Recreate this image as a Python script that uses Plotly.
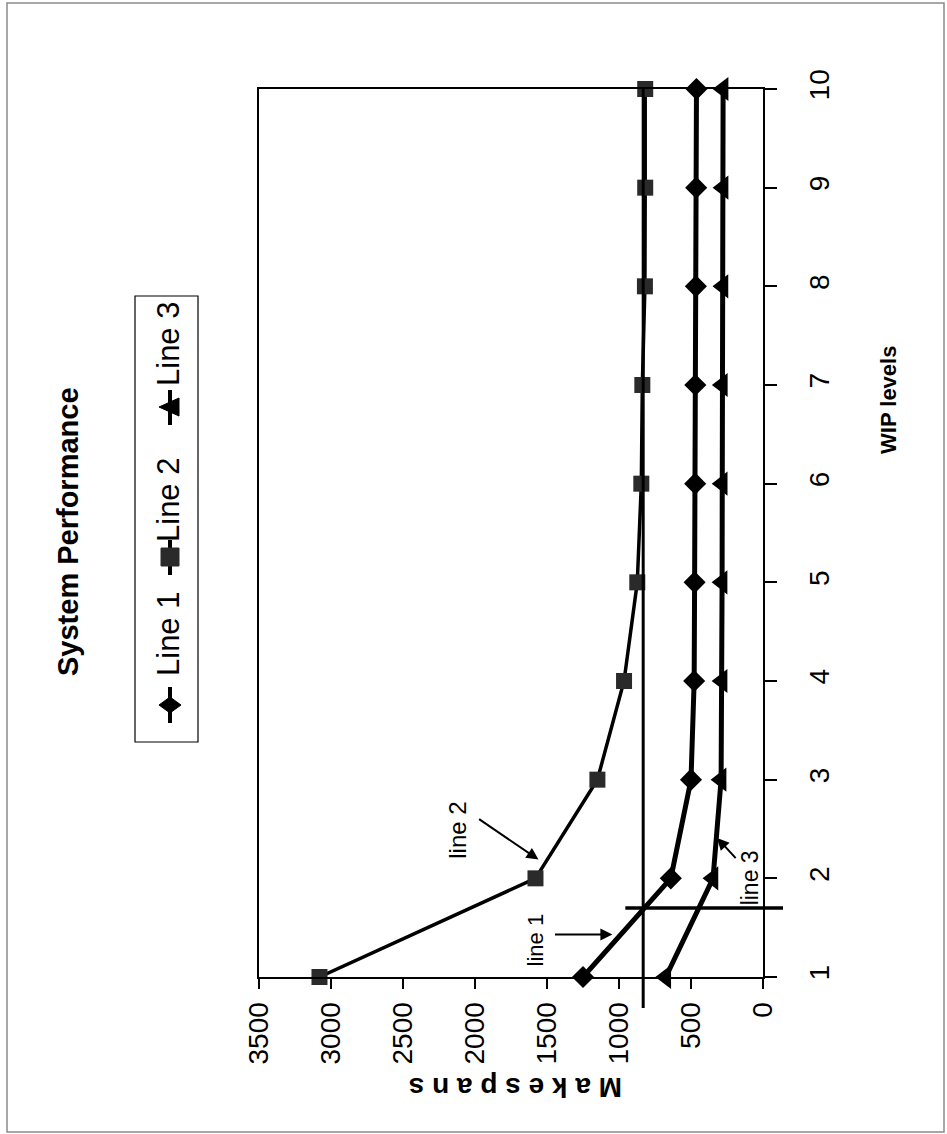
import plotly.graph_objects as go

# ---------------- data ----------------
wip_levels = [1, 2, 3, 4, 5, 6, 7, 8, 9, 10]
line1_makespan = [1250, 640, 500, 478, 475, 471, 470, 466, 464, 462]
line2_makespan = [3080, 1580, 1150, 965, 873, 845, 838, 820, 818, 818]
line3_makespan = [675, 347, 291, 284, 284, 283, 282, 278, 277, 277]
series_names = ["Line 1", "Line 2", "Line 3"]
makespan_ticks = [0, 500, 1000, 1500, 2000, 2500, 3000, 3500]

ref_makespan = 832          # vertical reference line (makespan value)
ref_wip = 1.70              # horizontal reference line (WIP value)
ref_wip_span = (956, -139)  # makespan extent of the horizontal reference line

# ---------------- layout geometry ----------------
W, H = 947, 1134
L, R, T, B = 259, 184, 89, 157
PW, PH = W - L - R, H - T - B
XMAX = 3500

def px(x):
    return (x - L) / PW

def py(y):
    return (H - B - y) / PH

def mk(m):
    return (XMAX - m) / XMAX

FONT = "Liberation Sans, Arial, sans-serif"

fig = go.Figure()
fig.add_trace(go.Scatter(x=line1_makespan, y=wip_levels, name=series_names[0], mode="lines+markers",
                         line=dict(color="#000", width=5),
                         marker=dict(symbol="diamond", size=17, color="#000"), cliponaxis=False))
fig.add_trace(go.Scatter(x=line2_makespan, y=wip_levels, name=series_names[1], mode="lines+markers",
                         line=dict(color="#000", width=3.5),
                         marker=dict(symbol="square", size=16, color="#2a2a2a"), cliponaxis=False))
fig.add_trace(go.Scatter(x=line3_makespan, y=wip_levels, name=series_names[2], mode="lines+markers",
                         line=dict(color="#000", width=5),
                         marker=dict(symbol="triangle-left", size=21, color="#000"), cliponaxis=False))

shapes = []
# page frame
shapes.append(dict(type="rect", xref="paper", yref="paper", x0=px(7), x1=px(944), y0=py(1132), y1=py(3),
                   line=dict(color="#8a8a8a", width=1.5)))
# reference lines
shapes.append(dict(type="line", xref="x", yref="paper", x0=ref_makespan, x1=ref_makespan,
                   y0=py(1008), y1=1, line=dict(color="#000", width=3)))
shapes.append(dict(type="line", xref="paper", yref="y", x0=mk(ref_wip_span[0]), x1=mk(ref_wip_span[1]),
                   y0=ref_wip, y1=ref_wip, line=dict(color="#000", width=3.5)))

# legend box
shapes.append(dict(type="rect", xref="paper", yref="paper", x0=px(135), x1=px(198), y0=py(742), y1=py(296),
                   line=dict(color="#000", width=1.2), fillcolor="white"))
LX = 170
leg_items = [  # (segment y0, y1, symbol center y, text center y)
    (687, 723, 705, 634),
    (540, 575, 557, 500),
    (390, 425, 407, 344),
]
for i, (s0, s1, sc, tc) in enumerate(leg_items):
    shapes.append(dict(type="line", xref="paper", yref="paper", x0=px(LX), x1=px(LX), y0=py(s0), y1=py(s1),
                       line=dict(color="#000", width=4)))
    if i == 0:
        path = (f"M {px(LX-11)} {py(sc)} L {px(LX)} {py(sc-8)} L {px(LX+11)} {py(sc)} "
                f"L {px(LX)} {py(sc+8)} Z")
        shapes.append(dict(type="path", xref="paper", yref="paper", path=path,
                           fillcolor="#000", line=dict(color="#000", width=1)))
    elif i == 1:
        shapes.append(dict(type="rect", xref="paper", yref="paper", x0=px(LX-9), x1=px(LX+9),
                           y0=py(sc+9), y1=py(sc-9), fillcolor="#2a2a2a", line=dict(color="#2a2a2a", width=1)))
    else:
        path = (f"M {px(LX-11)} {py(sc)} L {px(LX+9)} {py(sc-9)} L {px(LX+9)} {py(sc+9)} Z")
        shapes.append(dict(type="path", xref="paper", yref="paper", path=path,
                           fillcolor="#000", line=dict(color="#000", width=1)))

annotations = []
for i, (s0, s1, sc, tc) in enumerate(leg_items):
    annotations.append(dict(xref="paper", yref="paper", x=px(168), y=py(tc), text=series_names[i],
                            showarrow=False, textangle=-90, xanchor="center", yanchor="middle",
                            font=dict(family=FONT, size=31, color="#000")))

# titles
annotations.append(dict(xref="paper", yref="paper", x=px(68), y=py(532), text="<b>System Performance</b>",
                        showarrow=False, textangle=-90, xanchor="center", yanchor="middle",
                        font=dict(family=FONT, size=29, color="#000")))
annotations.append(dict(xref="paper", yref="paper", x=px(888), y=py(400), text="<b>WIP levels</b>",
                        showarrow=False, textangle=-90, xanchor="center", yanchor="middle",
                        font=dict(family=FONT, size=22, color="#000")))
annotations.append(dict(xref="paper", yref="paper", x=px(516), y=py(1088), text="<b>M a k e s p a n s</b>",
                        showarrow=False, textangle=180, xanchor="center", yanchor="middle",
                        font=dict(family=FONT, size=28, color="#000")))

# callouts
arrow_kw = dict(showarrow=True, arrowhead=2, arrowsize=1.2, arrowwidth=2, arrowcolor="#000",
                xref="x", yref="y", axref="x", ayref="y", text="")
annotations.append(dict(x=1559, y=2.19, ax=1982, ay=2.61, **arrow_kw))
annotations.append(dict(x=1046, y=1.43, ax=1455, ay=1.43, **arrow_kw))
annotations.append(dict(x=319, y=2.41, ax=180, ay=2.19, **arrow_kw))
for txt, xv, yv, fs in [("line 2", 2120, 2.49, 24), ("line 1", 1580, 1.375, 22), ("line 3", 90, 2.0, 23)]:
    annotations.append(dict(xref="x", yref="y", x=xv, y=yv, text=txt, showarrow=False, textangle=-90,
                            xanchor="center", yanchor="middle",
                            font=dict(family=FONT, size=fs, color="#000")))

fig.update_layout(
    width=W, height=H, autosize=False,
    margin=dict(l=L, r=R, t=T, b=B, pad=0),
    paper_bgcolor="white", plot_bgcolor="white",
    showlegend=False,
    shapes=shapes, annotations=annotations,
    xaxis=dict(range=[XMAX, 0], tickvals=makespan_ticks, ticktext=[str(v) for v in makespan_ticks],
               showgrid=False, zeroline=False, showline=True, mirror=True, linecolor="#000", linewidth=2,
               ticks="outside", ticklen=10, tickwidth=1.5, tickcolor="#000", tickangle=-90,
               ticklabelstandoff=2,
               tickfont=dict(family=FONT, size=28, color="#000")),
    yaxis=dict(range=[1, 10], tickvals=wip_levels, side="right",
               showgrid=False, zeroline=False, showline=True, mirror=True, linecolor="#000", linewidth=2,
               ticks="outside", ticklen=12, tickwidth=1.5, tickcolor="#000", tickangle=-90,
               ticklabelstandoff=18,
               tickfont=dict(family=FONT, size=28, color="#000")),
)

fig.write_html("out.html", config={"displayModeBar": False},
               post_script="document.body.style.margin='0px';")
